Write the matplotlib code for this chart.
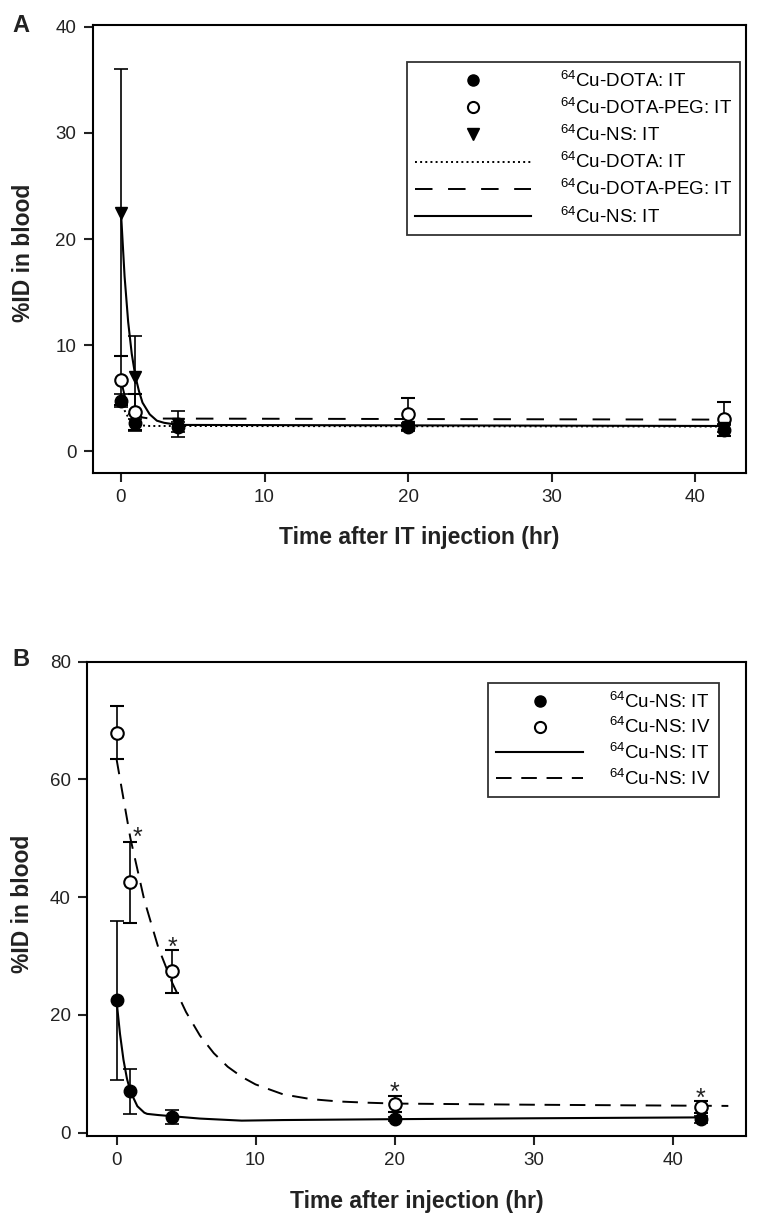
import matplotlib
matplotlib.use("Agg")
import matplotlib.pyplot as plt
from matplotlib.lines import Line2D

plt.rcParams['font.family'] = ['Liberation Sans', 'DejaVu Sans']
plt.rcParams['mathtext.fontset'] = 'custom'
plt.rcParams['mathtext.rm'] = 'Liberation Sans'
plt.rcParams['mathtext.default'] = 'regular'

# ---- panel A : measured points (mean, error) ----
t_dota = [0, 1, 4, 20, 42]
dota_it = [4.8, 2.7, 2.3, 2.3, 2.0]
dota_err = [0.6, 0.8, 0.5, 0.4, 0.5]

t_peg = [0, 1, 20, 42]
peg_it = [6.7, 3.7, 3.5, 3.1]
peg_err = [2.3, 1.7, 1.5, 1.6]

t_ns = [0, 1, 4, 20, 42]
ns_it = [22.5, 7.0, 2.6, 2.3, 2.2]
ns_err = [13.5, 3.9, 1.2, 0.3, 0.4]

# ---- panel A : fitted curves ----
dota_fit_t = [0, 0.3, 0.6, 1, 1.5, 2, 3, 42]
dota_fit_y = [4.8, 3.7, 3.0, 2.6, 2.45, 2.4, 2.4, 2.35]
peg_fit_t = [0, 0.3, 0.6, 1, 1.5, 2, 3, 42]
peg_fit_y = [6.7, 5.0, 4.0, 3.5, 3.2, 3.1, 3.1, 3.0]
ns_fit_t = [0, 0.25, 0.5, 0.75, 1, 1.25, 1.5, 2, 2.5, 3, 4, 42]
ns_fit_y = [22.5, 16.5, 12.2, 9.2, 7.1, 5.7, 4.6, 3.5, 2.9, 2.7, 2.5, 2.4]

# ---- panel B ----
t_b = [0, 1, 4, 20, 42]
ns_it_b = [22.5, 7.0, 2.6, 2.3, 2.3]
ns_it_b_err = [13.5, 3.8, 1.2, 0.3, 0.6]
ns_iv_b = [67.9, 42.5, 27.4, 4.9, 4.4]
ns_iv_b_err = [4.5, 6.8, 3.7, 1.3, 1.0]

iv_fit_t = [0, 1, 2, 3, 4, 5, 6, 7, 8, 9, 10, 12, 14, 16, 18, 20, 30, 44]
iv_fit_y = [63.5, 50, 39.5, 31.5, 25.5, 20.5, 16.5, 13.5, 11.2, 9.5, 8.2,
            6.5, 5.7, 5.3, 5.1, 4.95, 4.75, 4.55]
it_fit_t = [0, 0.25, 0.5, 0.75, 1, 1.5, 2, 2.2, 3, 4, 6, 9, 12, 20, 30, 42]
it_fit_y = [22.5, 16.8, 12.4, 9.2, 7.0, 4.5, 3.4, 3.2, 3.0, 2.8, 2.4, 2.05,
            2.15, 2.3, 2.45, 2.6]

star_t = [1.5, 4, 20, 42]
star_y = [51.3, 32.6, 7.9, 7.0]

W, H = 759, 1215
fig = plt.figure(figsize=(W / 100, H / 100), dpi=100)

dash_a = (0, (9, 8))
dash_b = (0, (8, 5))


def style_axes(ax):
    for s in ax.spines.values():
        s.set_linewidth(1.5)
    ax.tick_params(direction='out', length=6.5, width=1.5, labelsize=13.5,
                   pad=5, colors='#222222')
    ax.tick_params(axis='y', pad=5.5)


ebar = dict(color='black', capsize=5, elinewidth=1.2, capthick=1.2,
            ls='none', ms=9)

# ---------------- panel A ----------------
ax = fig.add_axes([93 / W, 1 - 472.7 / H, (746 - 93) / W, (472.7 - 24.7) / H])
ax.plot(dota_fit_t, dota_fit_y, color='black', ls=':', lw=1.4)
ax.plot(peg_fit_t, peg_fit_y, color='black', ls=dash_a, lw=1.4)
ax.plot(ns_fit_t, ns_fit_y, color='black', ls='-', lw=1.5)
ax.errorbar(t_dota, dota_it, yerr=dota_err, marker='o', mfc='black', **ebar)
ax.errorbar(t_peg, peg_it, yerr=peg_err, marker='o', mfc='white',
            mec='black', mew=1.5, **ebar)
ax.errorbar(t_ns, ns_it, yerr=ns_err, marker='v', mfc='black', **ebar)
ax.set_xlim(-1.95, 43.55)
ax.set_ylim(-2.0, 40.2)
ax.set_xticks([0, 10, 20, 30, 40])
ax.set_yticks([0, 10, 20, 30, 40])
style_axes(ax)
ax.set_xlabel('Time after IT injection (hr)', fontsize=16.5, fontweight='bold',
              color='#222222')
ax.xaxis.set_label_coords(0.5, -0.145)
ax.xaxis.label.set_va('center')
ax.set_ylabel('%ID in blood', fontsize=16.5, fontweight='bold', color='#222222')
ax.yaxis.set_label_coords(-0.107, 0.49)
ax.yaxis.label.set_va('center')

hA = [Line2D([], [], marker='o', color='black', ls='none', ms=8),
      Line2D([], [], marker='o', mfc='white', mec='black', mew=1.5, ls='none', ms=8),
      Line2D([], [], marker='v', color='black', ls='none', ms=8),
      Line2D([], [], color='black', ls=':', lw=1.4),
      Line2D([], [], color='black', ls=dash_a, lw=1.4),
      Line2D([], [], color='black', ls='-', lw=1.5)]
lA = [r'$^{64}$Cu-DOTA: IT', r'$^{64}$Cu-DOTA-PEG: IT', r'$^{64}$Cu-NS: IT',
      r'$^{64}$Cu-DOTA: IT', r'$^{64}$Cu-DOTA-PEG: IT', r'$^{64}$Cu-NS: IT']
legA = ax.legend(hA, lA, loc='upper right', bbox_to_anchor=(740 / W, 1 - 62 / H),
                 bbox_transform=fig.transFigure, fontsize=13.5, frameon=True,
                 fancybox=False, edgecolor='black', handlelength=6.2,
                 handletextpad=1.5, labelspacing=0.38, borderpad=0.45,
                 borderaxespad=0, numpoints=1)
legA.get_frame().set_linewidth(1.3)

# ---------------- panel B ----------------
bx = fig.add_axes([87.3 / W, 1 - 1136 / H, (745.7 - 87.3) / W, (1136 - 661.7) / H])
bx.plot(iv_fit_t, iv_fit_y, color='black', ls=dash_b, lw=1.4)
bx.plot(it_fit_t, it_fit_y, color='black', ls='-', lw=1.5)
bx.errorbar(t_b, ns_it_b, yerr=ns_it_b_err, marker='o', mfc='black', **ebar)
bx.errorbar(t_b, ns_iv_b, yerr=ns_iv_b_err, marker='o', mfc='white',
            mec='black', mew=1.5, **ebar)
for xs, ys in zip(star_t, star_y):
    bx.annotate('*', (xs, ys), xytext=(0, -10), textcoords='offset points',
                ha='center', va='baseline', fontsize=18, color='#222222')
bx.set_xlim(-2.1, 45.25)
bx.set_ylim(-0.56, 80.0)
bx.set_xticks([0, 10, 20, 30, 40])
bx.set_yticks([0, 20, 40, 60, 80])
style_axes(bx)
bx.set_xlabel('Time after injection (hr)', fontsize=16.5, fontweight='bold',
              color='#222222')
bx.xaxis.set_label_coords(0.5, -0.139)
bx.xaxis.label.set_va('center')
bx.set_ylabel('%ID in blood', fontsize=16.5, fontweight='bold', color='#222222')
bx.yaxis.set_label_coords(-0.098, 0.49)
bx.yaxis.label.set_va('center')

hB = [Line2D([], [], marker='o', color='black', ls='none', ms=8),
      Line2D([], [], marker='o', mfc='white', mec='black', mew=1.5, ls='none', ms=8),
      Line2D([], [], color='black', ls='-', lw=1.5),
      Line2D([], [], color='black', ls=dash_b, lw=1.4)]
lB = [r'$^{64}$Cu-NS: IT', r'$^{64}$Cu-NS: IV', r'$^{64}$Cu-NS: IT',
      r'$^{64}$Cu-NS: IV']
legB = bx.legend(hB, lB, loc='upper right', bbox_to_anchor=(719 / W, 1 - 683 / H),
                 bbox_transform=fig.transFigure, fontsize=13.5, frameon=True,
                 fancybox=False, edgecolor='black', handlelength=4.6,
                 handletextpad=1.4, labelspacing=0.3, borderpad=0.45,
                 borderaxespad=0, numpoints=1)
legB.get_frame().set_linewidth(1.3)

fig.text(21 / W, 1 - 25 / H, 'A', fontsize=17, fontweight='bold',
         ha='center', va='center', color='#222222')
fig.text(21 / W, 1 - 659 / H, 'B', fontsize=17, fontweight='bold',
         ha='center', va='center', color='#222222')

fig.savefig('out.png', dpi=100)
